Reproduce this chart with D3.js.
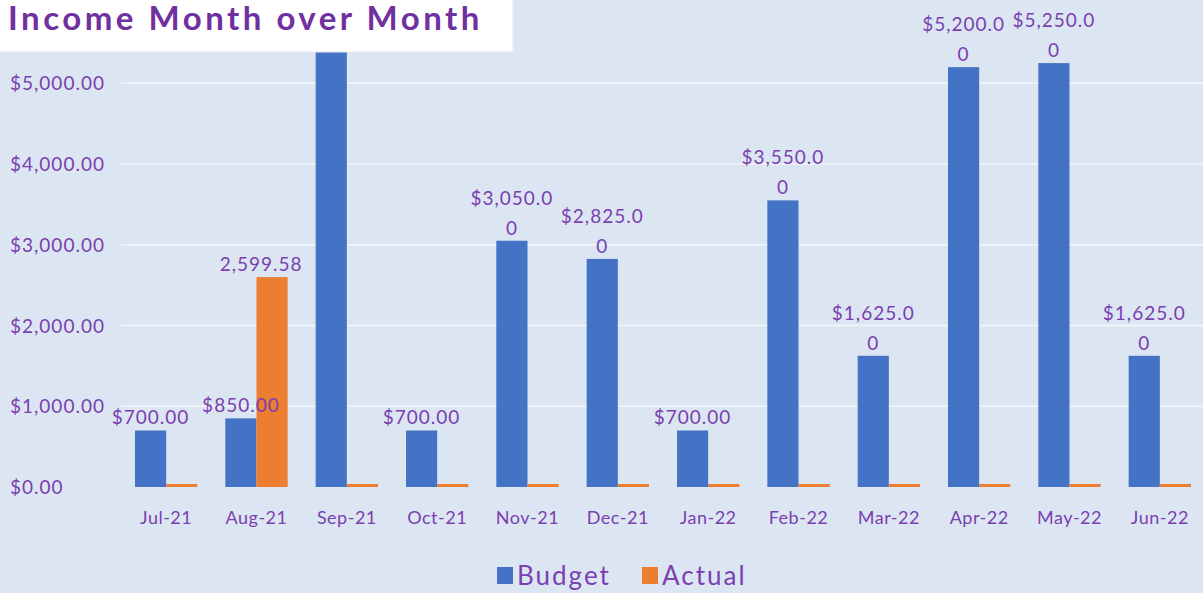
<!DOCTYPE html>
<html>
<head>
<meta charset="utf-8">
<script src="https://cdn.jsdelivr.net/npm/d3@7"></script>
<style>
  body { margin: 0; background: #dce6f2; }
  svg { display: block; }
</style>
</head>
<body>
<div id="chart"></div>
<script>
let w = 1203;
let h = 593;

// data
let months = ["Jul-21", "Aug-21", "Sep-21", "Oct-21", "Nov-21", "Dec-21", "Jan-22", "Feb-22", "Mar-22", "Apr-22", "May-22", "Jun-22"];
let budget = [700, 850, 5400, 700, 3050, 2825, 700, 3550, 1625, 5200, 5250, 1625];
let actual = [0, 2599.58, 0, 0, 0, 0, 0, 0, 0, 0, 0, 0];
let yTicks = [0, 1000, 2000, 3000, 4000, 5000];
let seriesNames = ["Budget", "Actual"];
let colors = ["#4472c4", "#ed7d31"];

let purple = "#7a3fb0";
let font = "Lato, 'DejaVu Sans', sans-serif";
let plotTop = 51;

let viz = d3.select("#chart")
  .append("svg")
  .attr("width", w)
  .attr("height", h);

viz.append("rect")
  .attr("width", w)
  .attr("height", h)
  .attr("fill", "#dce6f2");

let x = d3.scaleBand()
  .domain(months)
  .range([121, 1205])
  .paddingInner(0.31)
  .paddingOuter(0.155);

let xSub = d3.scaleBand()
  .domain(seriesNames)
  .range([0, x.bandwidth()]);

let y = d3.scaleLinear()
  .domain([0, 5400])
  .range([487, plotTop]);

// gridlines
viz.append("g")
  .selectAll("line")
  .data(yTicks.filter(d => d > 0))
  .enter()
  .append("line")
  .attr("x1", 121)
  .attr("x2", w)
  .attr("y1", d => y(d))
  .attr("y2", d => y(d))
  .attr("stroke", "#f2f5fa")
  .attr("stroke-width", 1.5);

// y tick labels (left aligned like the original)
viz.append("g")
  .selectAll("text")
  .data(yTicks)
  .enter()
  .append("text")
  .attr("x", 10)
  .attr("y", d => y(d) + 7)
  .attr("fill", purple)
  .attr("font-family", font)
  .attr("font-size", 19)
  .attr("letter-spacing", 1)
  .text(d => d3.format("$,.2f")(d));

let rows = months.map((m, i) => ({ month: m, vals: [budget[i], actual[i]] }));

let groups = viz.append("g")
  .selectAll(".month")
  .data(rows)
  .enter()
  .append("g")
  .attr("class", "month")
  .attr("transform", d => "translate(" + x(d.month) + ",0)");

groups.selectAll("rect")
  .data(d => d.vals.map((v, j) => ({ name: seriesNames[j], value: v, color: colors[j] })))
  .enter()
  .append("rect")
  .attr("x", d => xSub(d.name))
  .attr("width", xSub.bandwidth())
  .attr("y", d => Math.min(y(d.value), y(0) - 3))
  .attr("height", d => Math.max(y(0) - y(d.value), 3))
  .attr("fill", d => d.color);

// budget data labels; long ones wrap like Excel does
// the Sep-21 label sits behind the title box in the original, so it is skipped
groups.each(function (d) {
  let g = d3.select(this);
  let v = d.vals[0];
  let s = d3.format("$,.2f")(v);
  let lines = s.length > 7 ? [s.slice(0, -1), s.slice(-1)] : [s];
  let cx = xSub("Budget") + xSub.bandwidth() / 2;
  let base = y(v) - 6;
  if (y(v) > plotTop + 5) {
    lines.slice().reverse().forEach((t, k) => {
      g.append("text")
        .attr("x", cx)
        .attr("y", base - k * 30)
        .attr("text-anchor", "middle")
        .attr("fill", purple)
        .attr("font-family", font)
        .attr("font-size", 19)
        .attr("letter-spacing", 1)
        .text(t);
    });
  }
  if (d.vals[1] > 0) {
    g.append("text")
      .attr("x", xSub("Actual") + xSub.bandwidth() / 2 - 11)
      .attr("y", y(d.vals[1]) - 6)
      .attr("text-anchor", "middle")
      .attr("fill", purple)
      .attr("font-family", font)
      .attr("font-size", 19)
      .attr("letter-spacing", 1)
      .text(d3.format(",.2f")(d.vals[1]));
  }
});

// x labels
viz.append("g")
  .selectAll("text")
  .data(months)
  .enter()
  .append("text")
  .attr("x", d => x(d) + x.bandwidth() / 2)
  .attr("y", 524)
  .attr("text-anchor", "middle")
  .attr("fill", purple)
  .attr("font-family", font)
  .attr("font-size", 18)
  .attr("letter-spacing", 0.5)
  .text(d => d);

// legend
let legend = viz.append("g").attr("transform", "translate(497,567)");
let legendX = [0, 145];
seriesNames.forEach((n, i) => {
  legend.append("rect")
    .attr("x", legendX[i])
    .attr("y", 0)
    .attr("width", 16)
    .attr("height", 17)
    .attr("fill", colors[i]);
  legend.append("text")
    .attr("x", legendX[i] + 20)
    .attr("y", 18)
    .attr("fill", purple)
    .attr("font-family", font)
    .attr("font-size", 26)
    .attr("letter-spacing", 2)
    .text(n);
});

// title box sits over the top of the plot
viz.append("rect")
  .attr("x", -2)
  .attr("y", -2)
  .attr("width", 515)
  .attr("height", 54)
  .attr("fill", "#ffffff")
  .attr("stroke", "#e4e9f0");

viz.append("text")
  .attr("x", 8)
  .attr("y", 30)
  .attr("fill", "#7030a0")
  .attr("font-family", font)
  .attr("font-weight", "bold")
  .attr("font-size", 33)
  .attr("letter-spacing", 3.5)
  .text("Income Month over Month");
</script>
</body>
</html>
